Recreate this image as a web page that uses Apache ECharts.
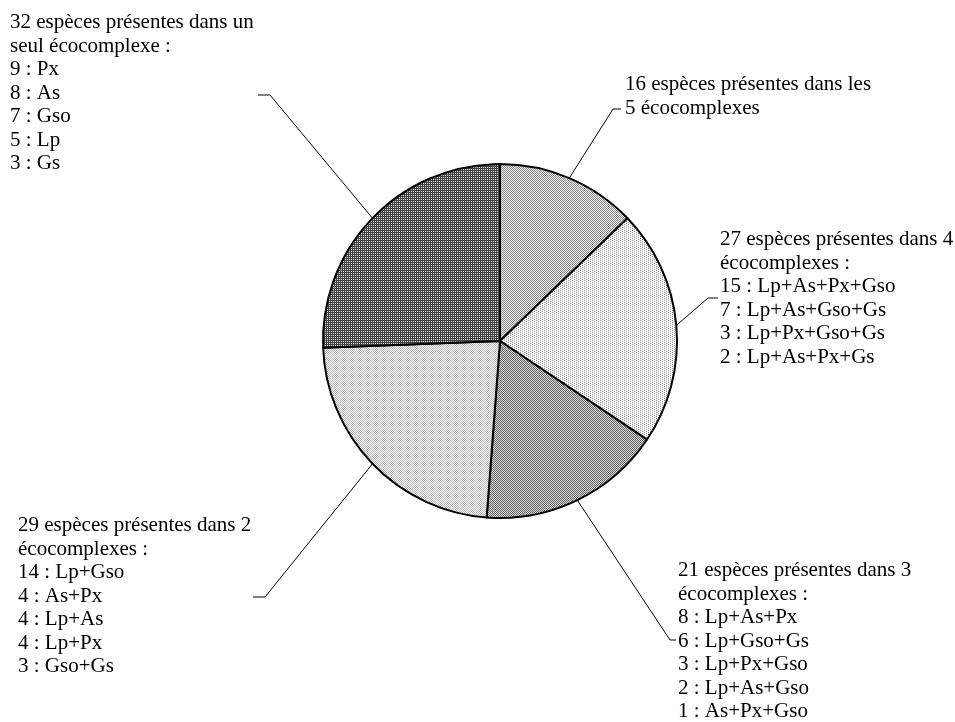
<!DOCTYPE html>
<html>
<head>
<meta charset="utf-8">
<script src="https://cdn.jsdelivr.net/npm/echarts@6/dist/echarts.min.js"></script>
<style>
  html, body { margin: 0; padding: 0; background: #fff; }
  #chart { width: 955px; height: 722px; }
</style>
</head>
<body>
<div id="chart"></div>
<script>
// slices, clockwise from 12 o'clock
const groupCounts = [16, 27, 21, 29, 32];
const groupTitles = [
  'espèces présentes dans les\n5 écocomplexes',
  'espèces présentes dans 4\nécocomplexes :',
  'espèces présentes dans 3\nécocomplexes :',
  'espèces présentes dans 2\nécocomplexes :',
  'espèces présentes dans un\nseul écocomplexe :'
];
const detailCounts = [
  [],
  [15, 7, 3, 2],
  [8, 6, 3, 2, 1],
  [14, 4, 4, 4, 3],
  [9, 8, 7, 5, 3]
];
const detailNames = [
  [],
  ['Lp+As+Px+Gso', 'Lp+As+Gso+Gs', 'Lp+Px+Gso+Gs', 'Lp+As+Px+Gs'],
  ['Lp+As+Px', 'Lp+Gso+Gs', 'Lp+Px+Gso', 'Lp+As+Gso', 'As+Px+Gso'],
  ['Lp+Gso', 'As+Px', 'Lp+As', 'Lp+Px', 'Gso+Gs'],
  ['Px', 'As', 'Gso', 'Lp', 'Gs']
];

// label boxes (top-left) and leader elbows, in px
const labelSpots = [
  { x: 625, y: 73, elbow: [613, 109], end: [621, 109] },
  { x: 720, y: 228, elbow: [708, 298], end: [718, 298] },
  { x: 678, y: 559, elbow: [670, 640], end: [676, 640] },
  { x: 18, y: 514, elbow: [265, 597], end: [253, 597] },
  { x: 10, y: 11, elbow: [270, 95], end: [258, 95] }
];

// little bitmap fills like the old office patterns
function makePattern(w, h, dark, light, isDark) {
  var c = document.createElement('canvas');
  c.width = w; c.height = h;
  var ctx = c.getContext('2d');
  for (var i = 0; i < w; i++) {
    for (var j = 0; j < h; j++) {
      ctx.fillStyle = isDark(i, j) ? dark : light;
      ctx.fillRect(i, j, 1, 1);
    }
  }
  return { image: c, repeat: 'repeat' };
}

var fills = [
  makePattern(2, 2, '#868686', '#f2f2f2', function (i, j) { return (i + j) % 2 === 0; }),
  makePattern(4, 2, '#8c8c8c', '#ffffff', function (i, j) { return (i === 0 && j === 0) || (i === 2 && j === 1); }),
  makePattern(2, 2, '#606060', '#dcdcdc', function (i, j) { return (i + j) % 2 === 0; }),
  makePattern(2, 2, '#b4b4b4', '#ffffff', function (i, j) { return (i + j) % 2 === 0; }),
  makePattern(2, 2, '#424242', '#e4e4e4', function (i, j) { return i === 0 || j === 0; })
];

function labelText(idx) {
  var lines = [groupCounts[idx] + ' ' + groupTitles[idx]];
  for (var k = 0; k < detailCounts[idx].length; k++) {
    lines.push(detailCounts[idx][k] + ' : ' + detailNames[idx][k]);
  }
  return lines.join('\n');
}

var pieData = groupCounts.map(function (v, i) {
  return { value: v, name: 'g' + i, itemStyle: { color: fills[i] } };
});

var chartDom = document.getElementById('chart');
var myChart = echarts.init(chartDom, null, { renderer: 'canvas' });

var option = {
  animation: false,
  backgroundColor: '#ffffff',
  series: [
    {
      type: 'pie',
      center: [500, 341],
      radius: 177,
      startAngle: 90,
      clockwise: true,
      avoidLabelOverlap: false,
      silent: true,
      data: pieData,
      itemStyle: {
        borderColor: '#000000',
        borderWidth: 2
      },
      label: {
        show: true,
        position: 'outside',
        formatter: function (p) { return labelText(p.dataIndex); },
        color: '#000000',
        fontFamily: 'Liberation Serif',
        fontSize: 21,
        lineHeight: 23.5,
        align: 'left'
      },
      labelLine: {
        show: true,
        smooth: false,
        lineStyle: { color: '#000000', width: 1 }
      },
      labelLayout: function (params) {
        var s = labelSpots[params.dataIndex];
        var start = params.labelLinePoints ? params.labelLinePoints[0] : s.elbow;
        return {
          x: s.x,
          y: s.y,
          align: 'left',
          verticalAlign: 'top',
          labelLinePoints: [start, s.elbow, s.end]
        };
      }
    }
  ]
};

option && myChart.setOption(option);
</script>
</body>
</html>
